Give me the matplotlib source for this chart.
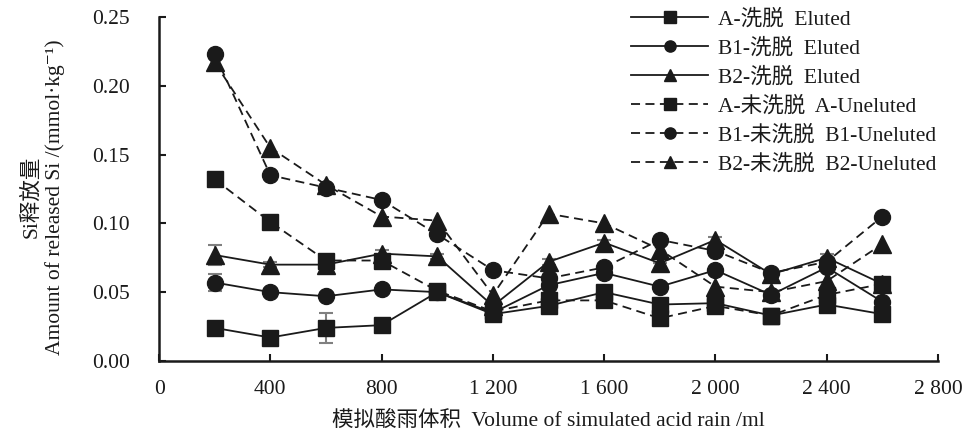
import matplotlib.pyplot as plt

plt.rcParams['font.family'] = ['Liberation Serif', 'Noto Sans CJK SC', 'DejaVu Serif']
plt.rcParams['axes.unicode_minus'] = False

volume = [200, 400, 600, 800, 1000, 1200, 1400, 1600, 1800, 2000, 2200, 2400, 2600]

a_eluted = [0.024, 0.017, 0.024, 0.026, 0.050, 0.034, 0.040, 0.050, 0.041, 0.042, 0.033, 0.041, 0.034]
b1_eluted = [0.057, 0.050, 0.047, 0.052, 0.050, 0.035, 0.055, 0.064, 0.054, 0.066, 0.048, 0.068, 0.043]
b2_eluted = [0.077, 0.070, 0.070, 0.078, 0.076, 0.040, 0.072, 0.086, 0.071, 0.088, 0.063, 0.075, 0.056]
a_uneluted = [0.132, 0.101, 0.073, 0.073, 0.051, 0.036, 0.044, 0.044, 0.031, 0.040, 0.033, 0.048, 0.056]
b1_uneluted = [0.223, 0.135, 0.126, 0.117, 0.092, 0.066, 0.060, 0.068, 0.088, 0.080, 0.064, 0.072, 0.105]
b2_uneluted = [0.217, 0.155, 0.128, 0.105, 0.102, 0.048, 0.107, 0.100, 0.081, 0.054, 0.050, 0.058, 0.085]

a_eluted_err = [0.0, 0.0, 0.011, 0.0, 0.0, 0.0, 0.0, 0.0, 0.0, 0.0, 0.0, 0.0, 0.0]
b1_eluted_err = [0.006, 0.0, 0.0, 0.0, 0.0, 0.0, 0.0, 0.0, 0.0, 0.0, 0.0, 0.0, 0.0]
b2_eluted_err = [0.007, 0.002, 0.002, 0.003, 0.002, 0.0, 0.002, 0.002, 0.0, 0.002, 0.0, 0.003, 0.0]
a_uneluted_err = [0.0, 0.0, 0.002, 0.002, 0.0, 0.0, 0.0, 0.0, 0.0, 0.0, 0.0, 0.0, 0.0]

labels = ['A-洗脱  Eluted', 'B1-洗脱  Eluted', 'B2-洗脱  Eluted',
          'A-未洗脱  A-Uneluted', 'B1-未洗脱  B1-Uneluted', 'B2-未洗脱  B2-Uneluted']
xtick_vals = [0, 400, 800, 1200, 1600, 2000, 2400, 2800]
xtick_labels = ['0', '400', '800', '1 200', '1 600', '2 000', '2 400', '2 800']
ytick_vals = [0.0, 0.05, 0.10, 0.15, 0.20, 0.25]

fig = plt.figure(figsize=(9.7, 4.38), dpi=100)
ax = fig.add_axes([0.164, 0.176, 0.803, 0.785])

ink = '#1a1a1a'
fs = 15.5
series = [
    (a_eluted, a_eluted_err, 's', 11.5, 'solid'),
    (b1_eluted, b1_eluted_err, 'o', 11.5, 'solid'),
    (b2_eluted, b2_eluted_err, '^', 12.5, 'solid'),
    (a_uneluted, a_uneluted_err, 's', 11.5, 'dashed'),
    (b1_uneluted, None, 'o', 11.5, 'dashed'),
    (b2_uneluted, None, '^', 12.5, 'dashed'),
]

for (vals, err, mk, ms, style), lab in zip(series, labels):
    if err is not None:
        ax.errorbar(volume, vals, yerr=err, fmt='none', ecolor='#808080',
                    elinewidth=1.5, capsize=5, capthick=1.5, zorder=2)
    line, = ax.plot(volume, vals, color=ink, lw=1.3, marker=mk, ms=ms,
                    mfc=ink, mec=ink, label=lab, zorder=3)
    if style == 'dashed':
        line.set_dashes((5, 3))

ax.set_xlim(0, 2800)
ax.set_ylim(0, 0.25)
ax.set_xticks(xtick_vals)
ax.set_xticklabels(xtick_labels)
ax.set_yticks(ytick_vals)
ax.set_yticklabels([f'{v:.2f}' for v in ytick_vals])
ax.tick_params(direction='in', length=5, width=1.5, labelsize=fs, colors=ink)
ax.tick_params(axis='y', pad=21)
ax.tick_params(axis='x', pad=14)
for s in ['top', 'right']:
    ax.spines[s].set_visible(False)
for s in ['left', 'bottom']:
    ax.spines[s].set_linewidth(1.8)
    ax.spines[s].set_color(ink)

fig.text(0.044, 0.55, 'Si释放量\nAmount of released Si /(mmol·kg⁻¹)',
         rotation=90, ha='center', va='center', fontsize=fs, color=ink,
         linespacing=1.25, multialignment='center')
fig.text(0.565, 0.04, '模拟酸雨体积  Volume of simulated acid rain /ml',
         ha='center', va='center', fontsize=fs, color=ink)

leg = ax.legend(loc='upper left', bbox_to_anchor=(618 / 970, 1.009),
                bbox_transform=fig.transFigure, frameon=False, fontsize=fs,
                markerscale=0.7, handlelength=3.6, handletextpad=0.45,
                labelspacing=0.4, borderpad=0.1)
for t in leg.get_texts():
    t.set_color(ink)

fig.savefig('out.png', dpi=100)
